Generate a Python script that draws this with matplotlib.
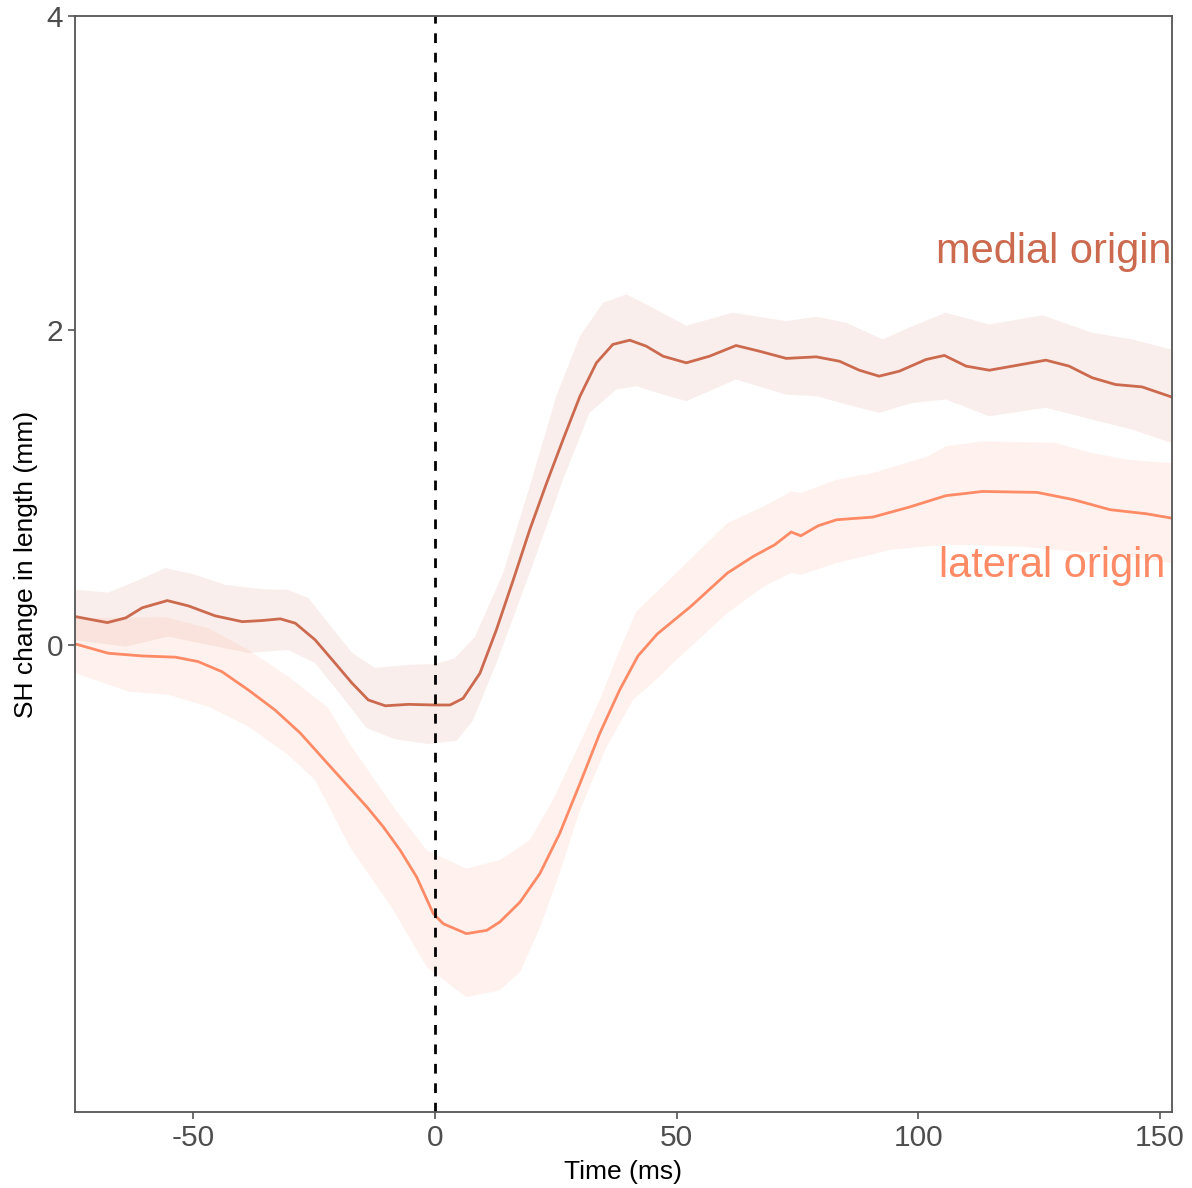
import matplotlib.pyplot as plt

plt.rcParams['font.family'] = ['Liberation Sans', 'DejaVu Sans']

# medial origin: mean line
medial_t = [-74.4, -67.8, -64.0, -60.6, -55.4, -51.0, -45.5, -39.9, -35.8, -32.0, -28.9, -24.8,
            -20.7, -17.2, -13.8, -10.3, -5.5, 0.0, 3.1, 5.8, 9.3, 12.7, 16.2, 19.6, 23.1, 26.5,
            30.0, 33.4, 36.8, 40.3, 43.7, 47.2, 52.0, 56.8, 62.3, 67.1, 72.7, 78.9, 83.7, 87.8,
            91.9, 96.1, 101.6, 105.4, 109.9, 114.7, 119.5, 126.4, 131.2, 136.0, 140.8, 146.3, 152.3]
medial_v = [0.180, 0.142, 0.172, 0.236, 0.282, 0.248, 0.185, 0.148, 0.155, 0.166, 0.138, 0.032,
            -0.115, -0.242, -0.350, -0.387, -0.378, -0.382, -0.382, -0.340, -0.180, 0.096, 0.414,
            0.732, 1.030, 1.306, 1.582, 1.794, 1.911, 1.938, 1.900, 1.836, 1.794, 1.836, 1.904,
            1.868, 1.822, 1.832, 1.804, 1.747, 1.709, 1.741, 1.815, 1.841, 1.773, 1.747, 1.773,
            1.811, 1.773, 1.699, 1.656, 1.641, 1.578]

# medial origin: ribbon
medial_up_t = [-74.4, -67.6, -62.0, -55.8, -49.6, -43.4, -35.8, -30.4, -26.2, -22.1, -17.1, -12.4,
               -5.6, 0.0, 4.1, 8.3, 14.1, 19.6, 25.1, 30.0, 34.8, 39.6, 44.4, 52.0, 61.6, 72.7,
               78.9, 85.1, 92.6, 98.8, 105.7, 114.7, 125.7, 136.0, 144.3, 152.3]
medial_up_v = [0.350, 0.333, 0.403, 0.489, 0.446, 0.382, 0.355, 0.350, 0.299, 0.140, -0.051, -0.146,
               -0.127, -0.121, -0.085, 0.053, 0.457, 1.008, 1.582, 1.964, 2.176, 2.229, 2.155,
               2.030, 2.113, 2.059, 2.087, 2.049, 1.943, 2.027, 2.113, 2.038, 2.096, 1.985,
               1.943, 1.879]
medial_lo_t = [-74.4, -64.0, -55.2, -46.9, -38.6, -30.4, -24.8, -19.2, -14.1, -8.3, -1.4, 4.5,
               7.9, 10.7, 12.7, 19.6, 26.5, 32.0, 37.5, 41.7, 47.2, 52.0, 62.3, 72.7, 78.9, 85.1,
               91.9, 98.8, 105.7, 114.7, 126.4, 136.0, 144.3, 152.3]
medial_lo_v = [0.030, -0.011, 0.053, 0.000, -0.051, -0.032, -0.115, -0.330, -0.530, -0.600, -0.630,
               -0.610, -0.478, -0.265, -0.117, 0.457, 1.051, 1.476, 1.624, 1.645, 1.592, 1.550,
               1.688, 1.592, 1.582, 1.529, 1.476, 1.539, 1.561, 1.454, 1.508, 1.433, 1.369, 1.285]

# lateral origin: mean line
lateral_t = [-74.4, -67.6, -60.6, -53.7, -49.0, -44.1, -38.6, -33.1, -27.9, -21.0, -14.1, -10.7,
             -7.2, -3.8, -0.35, 1.7, 6.5, 10.7, 13.4, 17.6, 21.7, 25.8, 30.0, 34.1, 38.2, 42.0,
             46.0, 52.9, 60.5, 65.8, 70.3, 73.7, 75.7, 79.3, 83.1, 90.6, 98.2, 105.7, 113.3,
             124.6, 132.1, 139.7, 147.2, 152.3]
lateral_v = [0.006, -0.053, -0.070, -0.078, -0.106, -0.170, -0.287, -0.414, -0.560, -0.796, -1.030,
             -1.157, -1.306, -1.476, -1.709, -1.773, -1.836, -1.815, -1.762, -1.635, -1.454, -1.199,
             -0.881, -0.562, -0.287, -0.070, 0.070, 0.244, 0.457, 0.562, 0.637, 0.718, 0.694, 0.758,
             0.796, 0.813, 0.877, 0.949, 0.976, 0.970, 0.924, 0.860, 0.834, 0.807]

# lateral origin: ribbon
lateral_up_t = [-74.4, -55.8, -46.9, -38.6, -30.4, -22.1, -17.6, -8.6, -1.7, 6.5, 13.4, 19.6,
                24.4, 29.3, 34.1, 38.2, 41.6, 49.2, 60.5, 68.0, 73.7, 75.7, 83.1, 90.6, 102.0,
                105.7, 113.3, 128.3, 135.9, 143.4, 152.3]
lateral_up_v = [0.170, 0.176, 0.106, -0.032, -0.200, -0.400, -0.630, -1.030, -1.306, -1.422, -1.369,
                -1.242, -0.987, -0.669, -0.350, -0.032, 0.210, 0.435, 0.775, 0.881, 0.976, 0.966,
                1.051, 1.094, 1.199, 1.263, 1.295, 1.285, 1.221, 1.178, 1.157]
lateral_lo_t = [-74.4, -63.4, -55.2, -46.9, -38.6, -30.4, -24.8, -17.6, -8.6, -1.7, 6.5, 13.4,
                17.6, 21.7, 25.8, 30.0, 35.5, 41.0, 46.5, 49.2, 60.5, 68.0, 73.7, 75.7, 83.1,
                94.4, 105.7, 120.8, 132.1, 139.7, 152.3]
lateral_lo_v = [-0.180, -0.297, -0.318, -0.393, -0.520, -0.700, -0.860, -1.285, -1.688, -2.049,
                -2.240, -2.197, -2.080, -1.800, -1.450, -1.051, -0.648, -0.350, -0.200, -0.117,
                0.202, 0.371, 0.457, 0.446, 0.520, 0.605, 0.637, 0.626, 0.594, 0.584, 0.520]

x_ticks = [-50, 0, 50, 100, 150]
y_ticks = [0, 2, 4]

medial_col = '#CC6A4F'
lateral_col = '#FF8A66'

fig = plt.figure(figsize=(11.92, 11.88), dpi=100)
ax = fig.add_axes([0.0629, 0.064, 0.9203, 0.9226])

ax.fill(medial_up_t + medial_lo_t[::-1], medial_up_v + medial_lo_v[::-1],
        color=medial_col, alpha=0.11, lw=0)
ax.fill(lateral_up_t + lateral_lo_t[::-1], lateral_up_v + lateral_lo_v[::-1],
        color=lateral_col, alpha=0.11, lw=0)
ax.plot(medial_t, medial_v, color=medial_col, lw=2, solid_joinstyle='round')
ax.plot(lateral_t, lateral_v, color=lateral_col, lw=2, solid_joinstyle='round')
ax.axvline(0, color='black', ls=(0, (3.5, 3.5)), lw=2)

ax.text(152.3, 2.5, 'medial origin', color=medial_col, fontsize=30, ha='right', va='center')
ax.text(151.2, 0.5, 'lateral origin', color=lateral_col, fontsize=30, ha='right', va='center')

ax.set_xlim(-74.5, 152.5)
ax.set_ylim(-2.97, 4.0)
ax.set_xticks(x_ticks)
ax.set_xticklabels([str(v) for v in x_ticks])
ax.set_yticks(y_ticks)
ax.tick_params(labelsize=21.5, labelcolor='#4D4D4D', color='#555555', length=5, width=1.2)
ax.set_xlabel('Time (ms)', fontsize=19, labelpad=6)
ax.set_ylabel('SH change in length (mm)', fontsize=19, labelpad=6)
for sp in ax.spines.values():
    sp.set_color('#555555')
    sp.set_linewidth(1.3)

fig.savefig('out.png', dpi=100)
